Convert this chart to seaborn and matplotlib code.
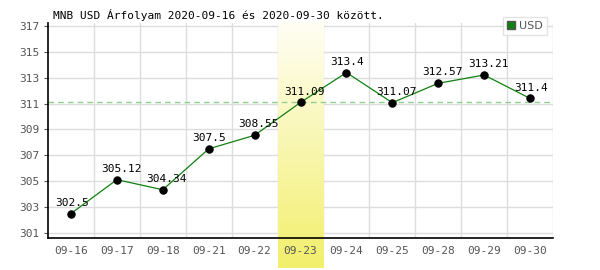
import matplotlib
matplotlib.use("Agg")
import matplotlib.pyplot as plt
import matplotlib.transforms as mtransforms
from matplotlib.colors import LinearSegmentedColormap
import numpy as np
import pandas as pd
import seaborn as sns

dates = ["09-16", "09-17", "09-18", "09-21", "09-22", "09-23",
         "09-24", "09-25", "09-28", "09-29", "09-30"]
rates = [302.5, 305.12, 304.34, 307.5, 308.55, 311.09,
         313.4, 311.07, 312.57, 313.21, 311.4]
labels = ["302.5", "305.12", "304.34", "307.5", "308.55", "311.09",
          "313.4", "311.07", "312.57", "313.21", "311.4"]
yticks = [301, 303, 305, 307, 309, 311, 313, 315, 317]
highlight = "09-23"
ref_value = 311.09
title = "MNB USD Árfolyam 2020-09-16 és 2020-09-30 között."

sns.set_style("white")
plt.rcParams['font.family'] = ['DejaVu Sans Mono', 'DejaVu Sans']

df = pd.DataFrame({"date": dates, "rate": rates})
df["x"] = range(len(dates))

fig = plt.figure(figsize=(6, 2.7), dpi=100)
ax = fig.add_axes([48/600, 32/270, 505/600, 215/270])

# highlight gradient band
hi = dates.index(highlight)
trans = mtransforms.blended_transform_factory(ax.transData, ax.transAxes)
cmap = LinearSegmentedColormap.from_list("band", ["#fffef4", "#f2ef6c"])
grad = np.linspace(0, 1, 256).reshape(-1, 1)
ax.imshow(grad, cmap=cmap, aspect="auto", transform=trans,
          extent=(hi - 0.5, hi + 0.5, -0.14, 1.0), origin="upper",
          clip_on=False, zorder=0.5)

ax.axhline(ref_value, color="#8fd08f", lw=1, ls=(0, (4, 3)), zorder=1)

sns.lineplot(data=df, x="x", y="rate", ax=ax, color="#108010", lw=0.9,
             marker="o", markersize=5.3, markerfacecolor="black",
             markeredgecolor="black", zorder=3, label="USD", legend=False)

for x, y, t in zip(df["x"], rates, labels):
    ax.text(x - 0.35, y + 0.45, t, fontsize=8, color="black",
            ha="left", va="bottom", zorder=4)

ax.set_xlim(-0.5, len(dates) - 0.5)
ax.set_ylim(300.61, 317.23)
ax.set_yticks(yticks)
ax.set_yticklabels([str(v) for v in yticks])
ax.set_xticks(df["x"])
ax.set_xticklabels(dates)
ax.grid(False)
for v in yticks:
    ax.axhline(v, color="#dddddd", lw=1, zorder=0.2)
for v in np.arange(0.5, len(dates), 1):
    ax.axvline(v, color="#dddddd", lw=1, zorder=0.2)
ax.tick_params(axis="both", which="major", labelsize=8, labelcolor="#555555")
ax.tick_params(axis="x", length=0, pad=6)
ax.tick_params(axis="y", length=3, color="#555555", pad=3, left=True)
ax.set_xlabel("")
ax.set_ylabel("")
for s in ["top", "right"]:
    ax.spines[s].set_visible(False)
ax.spines["left"].set_color("black")
ax.spines["bottom"].set_color("black")
ax.spines["left"].set_linewidth(1.2)
ax.spines["bottom"].set_linewidth(1.2)
ax.spines["left"].set_zorder(5)
ax.spines["bottom"].set_zorder(5)

fig.text(53/600, 1 - 15/270, title, fontsize=8, color="black",
         ha="left", va="center")

leg = ax.legend(handles=[plt.Line2D([], [], marker="s", color="none",
                                    markerfacecolor="#108010",
                                    markeredgecolor="#555555", markersize=6)],
                labels=["USD"], loc="upper right",
                bbox_to_anchor=(553/600, 1 - 11/270),
                bbox_transform=fig.transFigure, fontsize=8,
                frameon=True, fancybox=False, edgecolor="#dddddd",
                handlelength=0.8, handletextpad=0.3, borderpad=0.4,
                labelcolor="#555555")
leg.get_frame().set_linewidth(1)
leg.set_zorder(6)
for t in leg.get_texts():
    t.set_family("DejaVu Sans")

fig.savefig("out.png", dpi=100)
